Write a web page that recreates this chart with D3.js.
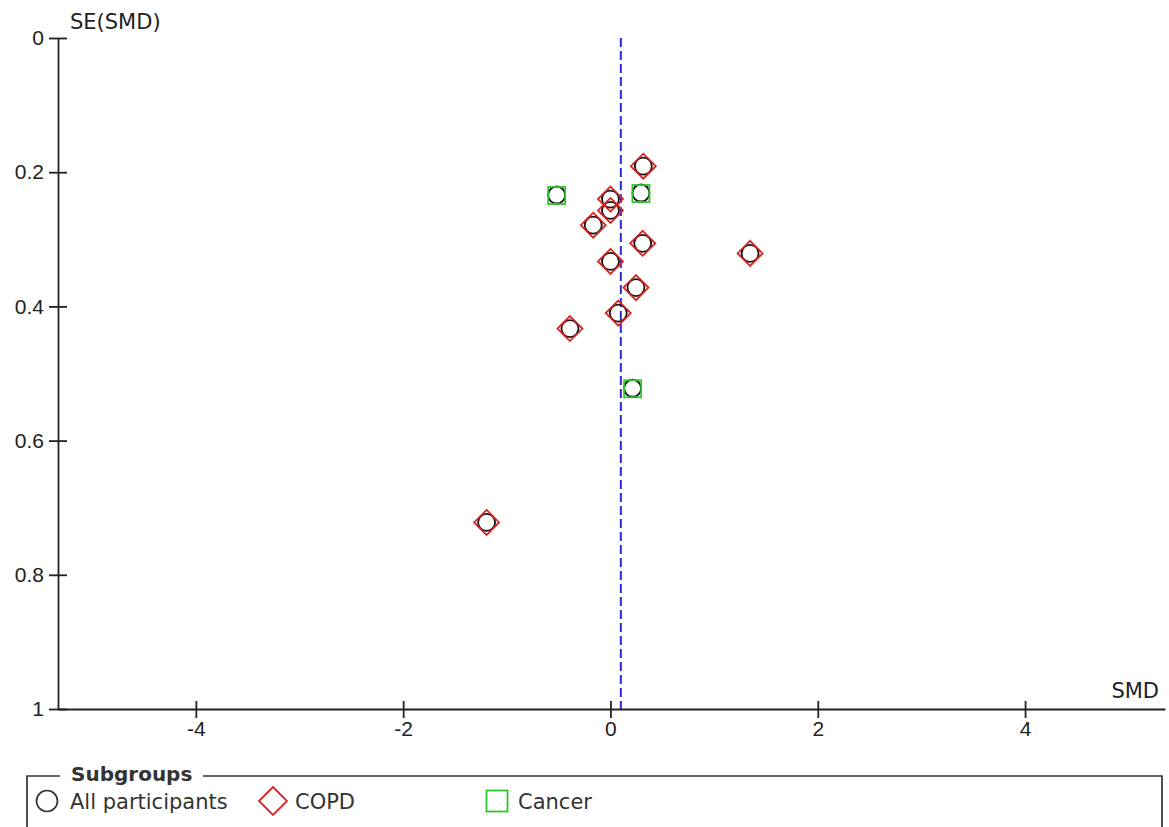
<!DOCTYPE html>
<html>
<head>
<meta charset="utf-8">
<script src="https://cdn.jsdelivr.net/npm/d3@7"></script>
<style>
  body { margin: 0; background: #fff; }
  text { font-family: "DejaVu Sans", sans-serif; fill: #222; }
</style>
</head>
<body>
<div id="funnel"></div>
<script>
// frame constants
const FRAME_WIDTH = 1169;
const FRAME_HEIGHT = 827;
const PLOT = {left: 58, right: 1165, top: 38, bottom: 709};

// data
const copdSmd = [0.317, 0.0, 0.0, -0.166, 0.311, 1.347, 0.0, 0.246, 0.075, -0.391, -1.195];
const copdSe  = [0.191, 0.240, 0.257, 0.279, 0.306, 0.321, 0.333, 0.372, 0.410, 0.433, 0.722];
const cancerSmd = [-0.519, 0.294, 0.214];
const cancerSe  = [0.234, 0.231, 0.522];
const pooledSmd = 0.10;

const xTicks = [-4, -2, 0, 2, 4];
const yTicks = [0, 0.2, 0.4, 0.6, 0.8, 1];
const legendLabels = ["All participants", "COPD", "Cancer"];

const RED = "#d92424";
const GREEN = "#2ec52e";
const BLUE = "#2b2bdc";

const svg = d3.select("#funnel")
  .append("svg")
  .attr("width", FRAME_WIDTH)
  .attr("height", FRAME_HEIGHT);

const xScale = d3.scaleLinear().domain([-5.33, 5.35]).range([PLOT.left, PLOT.right]);
const yScale = d3.scaleLinear().domain([0, 1]).range([PLOT.top, PLOT.bottom]);

// pooled estimate line
svg.append("line")
  .attr("x1", xScale(pooledSmd)).attr("x2", xScale(pooledSmd))
  .attr("y1", yScale(0)).attr("y2", yScale(1))
  .attr("stroke", BLUE)
  .attr("stroke-width", 2)
  .attr("stroke-dasharray", "9,4");

// x axis, ticks cross the line
const xAxis = svg.append("g")
  .attr("transform", "translate(0," + yScale(1) + ")")
  .call(d3.axisBottom(xScale).tickValues(xTicks).tickSize(9).tickSizeOuter(0)
    .tickPadding(3).tickFormat(d => String(d)));
xAxis.selectAll(".tick line").attr("y1", -8);

// y axis
const yAxis = svg.append("g")
  .attr("transform", "translate(" + PLOT.left + ",0)")
  .call(d3.axisLeft(yScale).tickValues(yTicks).tickSize(9).tickSizeOuter(0)
    .tickPadding(5).tickFormat(d => String(d)));
yAxis.selectAll(".tick line").attr("x1", 9);

svg.selectAll(".domain, .tick line").attr("stroke", "#222").attr("stroke-width", 1.8);
svg.selectAll(".tick text")
  .style("font-family", "'Liberation Sans', Arial, sans-serif")
  .style("font-size", "21px")
  .style("fill", "#222");

// axis titles
svg.append("text").attr("x", 70).attr("y", 29).attr("font-size", 21).text("SE(SMD)");
svg.append("text").attr("x", 1159).attr("y", 698).attr("font-size", 21)
  .attr("text-anchor", "end").text("SMD");

// all participants circles
const allSmd = copdSmd.concat(cancerSmd);
const allSe = copdSe.concat(cancerSe);
svg.selectAll("circle.all")
  .data(allSmd)
  .enter()
  .append("circle")
  .attr("class", "all")
  .attr("cx", (d) => xScale(d))
  .attr("cy", (d, i) => yScale(allSe[i]))
  .attr("r", 8.5)
  .attr("fill", "none")
  .attr("stroke", "#111")
  .attr("stroke-width", 1.8);

// copd diamonds
svg.selectAll("path.copd")
  .data(copdSmd)
  .enter()
  .append("path")
  .attr("class", "copd")
  .attr("d", "M0,-12.5L12.5,0L0,12.5L-12.5,0Z")
  .attr("transform", (d, i) => "translate(" + xScale(d) + "," + yScale(copdSe[i]) + ")")
  .attr("fill", "none")
  .attr("stroke", RED)
  .attr("stroke-width", 1.8);

// cancer squares
svg.selectAll("rect.cancer")
  .data(cancerSmd)
  .enter()
  .append("rect")
  .attr("class", "cancer")
  .attr("x", (d) => xScale(d) - 8.5)
  .attr("y", (d, i) => yScale(cancerSe[i]) - 8)
  .attr("width", 17)
  .attr("height", 17)
  .attr("fill", "none")
  .attr("stroke", GREEN)
  .attr("stroke-width", 1.8);

// legend box with title in the top border
const legend = svg.append("g");
legend.append("path")
  .attr("d", "M60,776H27V840M1162,840V776H203")
  .attr("fill", "none")
  .attr("stroke", "#333")
  .attr("stroke-width", 1.7);
legend.append("text").attr("x", 71).attr("y", 781)
  .attr("font-size", 20).attr("font-weight", "bold").style("fill", "#333")
  .text("Subgroups");

const legendX = [47, 273, 497];
const legendTextX = [70, 295, 518];
legend.append("circle").attr("cx", legendX[0]).attr("cy", 801).attr("r", 10.5)
  .attr("fill", "none").attr("stroke", "#333").attr("stroke-width", 1.7);
legend.append("path").attr("d", "M0,-14L14,0L0,14L-14,0Z")
  .attr("transform", "translate(" + legendX[1] + ",801)")
  .attr("fill", "none").attr("stroke", RED).attr("stroke-width", 1.8);
legend.append("rect").attr("x", legendX[2] - 10.5).attr("y", 790.5)
  .attr("width", 21).attr("height", 21)
  .attr("fill", "none").attr("stroke", GREEN).attr("stroke-width", 1.8);
legend.selectAll("text.item")
  .data(legendLabels)
  .enter()
  .append("text")
  .attr("class", "item")
  .attr("x", (d, i) => legendTextX[i])
  .attr("y", 809)
  .attr("font-size", 21)
  .style("fill", "#333")
  .text((d) => d);
</script>
</body>
</html>
